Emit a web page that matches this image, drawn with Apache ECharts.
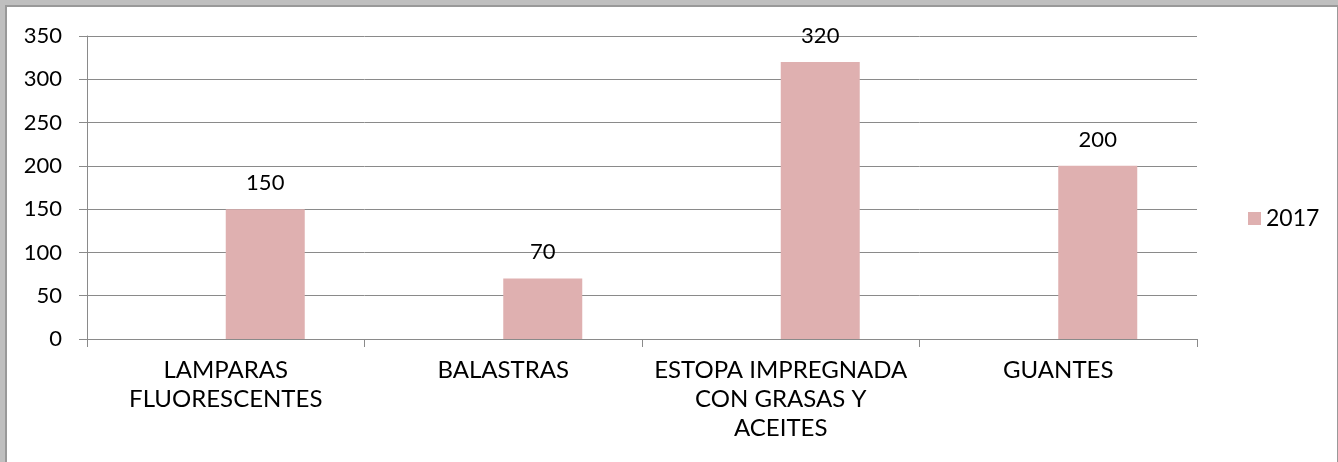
<!DOCTYPE html>
<html>
<head>
<meta charset="utf-8">
<script src="https://cdn.jsdelivr.net/npm/echarts@6/dist/echarts.min.js"></script>
<style>
  html, body { margin: 0; padding: 0; background: #bfbfbf; }
  .frame {
    position: absolute; left: 5px; top: 5px; right: 0; bottom: -4px;
    background: #fff;
    border-left: 2px solid #999;
    border-top: 2px solid #999;
    border-right: 1px solid #999;
  }
  #chart { position: absolute; left: 0; top: 0; width: 1338px; height: 462px; }
</style>
</head>
<body>
<div class="frame"></div>
<div id="chart"></div>
<script>
// categorias y valores
const categories = ['LAMPARAS\nFLUORESCENTES', 'BALASTRAS', 'ESTOPA IMPREGNADA\nCON GRASAS Y\nACEITES', 'GUANTES']
const values2017 = [150, 70, 320, 200]
const yTicks = { min: 0, max: 350, interval: 50 }

const font = 'Lato, "Open Sans", sans-serif'
const chart = echarts.init(document.getElementById('chart'))

const option = {
  backgroundColor: 'transparent',
  textStyle: { fontFamily: font, color: '#000' },
  grid: { left: 87, right: 141, top: 36, bottom: 123, containLabel: false },
  legend: {
    data: ['2017'],
    orient: 'vertical',
    left: 1248,
    top: 207,
    padding: 0,
    icon: 'rect',
    itemWidth: 13,
    itemHeight: 13,
    textStyle: { fontFamily: font, fontSize: 23, color: '#000', padding: [0, 0, 0, 0] }
  },
  xAxis: {
    type: 'category',
    data: categories,
    axisLine: { lineStyle: { color: '#8a8a8a', width: 1 } },
    axisTick: { show: true, length: 8, lineStyle: { color: '#8a8a8a' } },
    axisLabel: { fontFamily: font, fontSize: 24, color: '#000', margin: 17, lineHeight: 29, interval: 0 }
  },
  yAxis: {
    type: 'value',
    min: yTicks.min,
    max: yTicks.max,
    interval: yTicks.interval,
    axisLine: { show: true, lineStyle: { color: '#8a8a8a', width: 1 } },
    axisTick: { show: true, length: 8, lineStyle: { color: '#8a8a8a' } },
    axisLabel: { fontFamily: font, fontSize: 22, color: '#000', margin: 25 },
    splitLine: { lineStyle: { color: '#8a8a8a', width: 1 } }
  },
  series: [
    {
      // serie vacia para que la barra quede a la derecha del centro (como en Excel)
      name: '_',
      type: 'bar',
      data: [],
      barWidth: 79,
      barGap: '0%'
    },
    {
      name: '2017',
      type: 'bar',
      data: values2017,
      barWidth: 79,
      barGap: '0%',
      itemStyle: { color: '#dfb0b0' },
      label: {
        show: true,
        position: 'top',
        distance: 15,
        fontFamily: font,
        fontSize: 22,
        color: '#000'
      }
    }
  ]
}
chart.setOption(option)
</script>
</body>
</html>
